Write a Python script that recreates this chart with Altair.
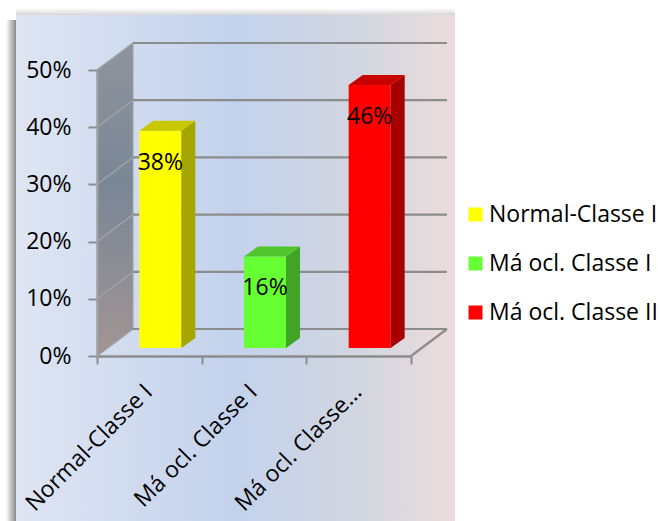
import altair as alt
import pandas as pd

# ---------------- data ----------------
CATEGORIES = ["Normal-Classe I", "Má ocl. Classe I", "Má ocl. Classe II"]
TICK_LABELS = ["Normal-Classe I", "Má ocl. Classe I", "Má ocl. Classe..."]
VALUES = [0.38, 0.16, 0.46]
Y_TICKS = [0.0, 0.1, 0.2, 0.3, 0.4, 0.5]

# ---------------- styles ----------------
FRONT = ["#ffff00", "#66ff33", "#ff0000"]
SIDE = ["#a6a600", "#41a424", "#a60000"]
TOP = ["#c8c800", "#50c42c", "#c80000"]
FONT = "Open Sans"
FS = 23
GRID = "#8c8c8c"

W, H = 314, 286          # plot area (front frame) in px
N = len(CATEGORIES)
YMAX = 0.5
UX = N / W               # data units per px (x)
UY = YMAX / H            # data units per px (y)
WALL_DX, WALL_DY = 36, 27   # depth of the 3-D box
BAR_FX, BAR_FY = 11, 8      # bar front offset inside depth
BAR_DX, BAR_DY = 14, 10     # bar depth
BAR_W = 42

# ---------------- tables ----------------
bars, sides, tops = [], [], []
for i, (c, v) in enumerate(zip(CATEGORIES, VALUES)):
    cx = i + 0.5 + BAR_FX * UX
    L, R = cx - BAR_W / 2 * UX, cx + BAR_W / 2 * UX
    base = BAR_FY * UY
    top = v + base
    dx, dy = BAR_DX * UX, BAR_DY * UY
    bars.append(dict(cat=c, x=L, x2=R, y=base, y2=top, cx=cx,
                     label=f"{round(v * 100)}%"))
    sides.append(dict(poly=f"s{i}", fill=SIDE[i], x=R, y=top, y2=base))
    sides.append(dict(poly=f"s{i}", fill=SIDE[i], x=R + dx, y=top + dy, y2=base + dy))
    for xx, yy, yy2 in [(L, top, top), (L + dx, top + dy, top),
                        (R, top + dy, top), (R + dx, top + dy, top + dy)]:
        tops.append(dict(poly=f"t{i}", fill=TOP[i], x=xx, y=yy, y2=yy2))
bars_df = pd.DataFrame(bars)
sides_df = pd.DataFrame(sides)
tops_df = pd.DataFrame(tops)

wdx, wdy = WALL_DX * UX, WALL_DY * UY
wall_df = pd.DataFrame({"x": [0, wdx], "y": [YMAX, YMAX + wdy], "y2": [0, wdy]})
grid_df = pd.DataFrame({"g": Y_TICKS})
grid_df["gb"] = grid_df["g"] + wdy
grid_df["x0"] = 0.0
grid_df["x1"] = wdx
grid_df["x2"] = N + wdx
floor_df = pd.DataFrame({"x": [N], "x2": [N + wdx], "y": [0], "y2": [wdy]})
dummy = pd.DataFrame({"a": [0]})

xs = alt.Scale(domain=[0, N], nice=False, zero=False)
ys = alt.Scale(domain=[0, YMAX], nice=False, zero=False)

X_AXIS = alt.Axis(
    title=None, values=list(range(N + 1)), zindex=1,
    labelExpr=str(TICK_LABELS + [""]) + "[datum.value]",
    labelOffset=(0.5 + BAR_FX * UX) * W / N - 12,
    labelAngle=315, labelAlign="right", labelBaseline="middle",
    labelOverlap=False, labelBound=False, labelFlush=False,
    labelFont=FONT, labelFontSize=FS, labelColor="#000000",
    labelPadding=24, tickSize=8, tickColor=GRID, tickWidth=2,
    domainColor=GRID, domainWidth=2.5, grid=False)
Y_AXIS = alt.Axis(
    title=None, values=Y_TICKS, format=".0%", labelFont=FONT, labelFontSize=FS,
    labelColor="#000000", labelPadding=17, tickSize=9, tickColor=GRID, zindex=1,
    labelOverlap=False, tickWidth=2, domainColor="#a0a0a0", domainWidth=2,
    grid=False)


def X(f):
    return alt.X(f, scale=xs, axis=X_AXIS)


def Y(f):
    return alt.Y(f, scale=ys, axis=Y_AXIS)


# ---------------- decorations ----------------
panel = alt.Chart(dummy).mark_rect(
    fill=alt.Gradient(gradient="linear", x1=0, x2=1, y1=0, y2=0, stops=[
        alt.GradientStop(color="#dfe5f3", offset=0),
        alt.GradientStop(color="#c3d2ec", offset=0.5),
        alt.GradientStop(color="#d2d6e0", offset=0.78),
        alt.GradientStop(color="#ecdcdc", offset=1)])
).encode(x=alt.value(-81), x2=alt.value(358), y=alt.value(-55), y2=alt.value(451))

shadow_l = alt.Chart(dummy).mark_rect(
    fill=alt.Gradient(gradient="linear", x1=0, x2=1, y1=0, y2=0, stops=[
        alt.GradientStop(color="#ffffff", offset=0),
        alt.GradientStop(color="#8a8a8a", offset=1)])
).encode(x=alt.value(-91), x2=alt.value(-81), y=alt.value(-50), y2=alt.value(451))

shadow_t = alt.Chart(dummy).mark_rect(
    fill=alt.Gradient(gradient="linear", x1=0, x2=0, y1=0, y2=1, stops=[
        alt.GradientStop(color="#ffffff", offset=0),
        alt.GradientStop(color="#d6d6d6", offset=1)])
).encode(x=alt.value(-81), x2=alt.value(358), y=alt.value(-62), y2=alt.value(-55))

wall = alt.Chart(wall_df).mark_area(
    fill=alt.Gradient(gradient="linear", x1=0, x2=0, y1=0, y2=1, stops=[
        alt.GradientStop(color="#8f949c", offset=0),
        alt.GradientStop(color="#7a8696", offset=0.45),
        alt.GradientStop(color="#a19593", offset=1)]),
    stroke="#a0a0a0", strokeWidth=1
).encode(x=X("x:Q"), y=Y("y:Q"), y2="y2:Q")

side_grid = alt.Chart(grid_df).mark_rule(color="#9ea2a8", strokeWidth=1.5).encode(
    x=X("x0:Q"), x2="x1:Q", y=Y("g:Q"), y2="gb:Q")

back_grid = alt.Chart(grid_df).mark_rule(color=GRID, strokeWidth=2.2).encode(
    x=X("x1:Q"), x2="x2:Q", y=Y("gb:Q"))

floor_edge = alt.Chart(floor_df).mark_rule(color=GRID, strokeWidth=2.2).encode(
    x=X("x:Q"), x2="x2:Q", y=Y("y:Q"), y2="y2:Q")

# ---------------- bars ----------------
front = alt.Chart(bars_df).mark_rect().encode(
    x=X("x:Q"), x2="x2:Q", y=Y("y:Q"), y2="y2:Q",
    color=alt.Color("cat:N", scale=alt.Scale(domain=CATEGORIES, range=FRONT),
                    legend=alt.Legend(
                        title=None, orient="none", legendX=367, legendY=133,
                        symbolType="square", symbolSize=196, symbolStrokeWidth=0,
                        labelFont=FONT, labelFontSize=FS, labelColor="#000000",
                        labelOffset=2, rowPadding=25, labelLimit=300)),
)

side = alt.Chart(sides_df).mark_area().encode(
    x=X("x:Q"), y=Y("y:Q"), y2="y2:Q", detail="poly:N",
    fill=alt.Fill("fill:N", scale=None))

topf = alt.Chart(tops_df).mark_area().encode(
    x=X("x:Q"), y=Y("y:Q"), y2="y2:Q", detail="poly:N",
    fill=alt.Fill("fill:N", scale=None))

labels = alt.Chart(bars_df).mark_text(
    font=FONT, fontSize=FS, color="#000000", baseline="middle", dy=32
).encode(x=X("cx:Q"), y=Y("y2:Q"), text="label:N")

chart = alt.layer(
    shadow_t, shadow_l, panel, wall, side_grid, back_grid, floor_edge,
    front, side, topf, labels
).properties(
    width=W, height=H,
    autosize=alt.AutoSizeParams(type="none"),
    padding={"left": 97, "top": 70, "right": 660 - 97 - W, "bottom": 521 - 70 - H},
).configure_view(stroke=None).configure(background="#ffffff")

chart.save("out.html", embed_options={"renderer": "svg", "actions": False})
